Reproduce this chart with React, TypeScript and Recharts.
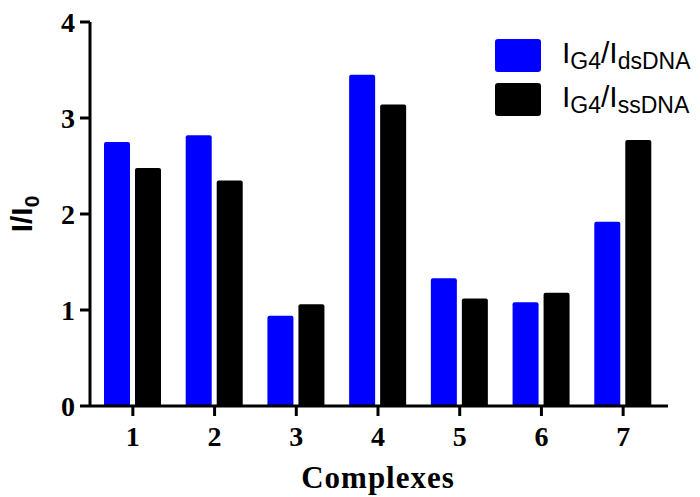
import { Bar, BarChart, XAxis, YAxis } from 'recharts'

const complexes = ['1', '2', '3', '4', '5', '6', '7']
const dsDNA = [2.75, 2.82, 0.94, 3.45, 1.33, 1.08, 1.92]
const ssDNA = [2.48, 2.35, 1.06, 3.14, 1.12, 1.18, 2.77]
const yTicks = [0, 1, 2, 3, 4]

const data = complexes.map((name, i) => ({ name, ds: dsDNA[i], ss: ssDNA[i] }))

const serif = '"Liberation Serif", "Times New Roman", serif'
const sans = '"Liberation Sans", Arial, sans-serif'
const axisStyle = { stroke: '#000', strokeWidth: 3 }

function YLabel({ viewBox }: any) {
  const cx = 32
  const cy = viewBox.y + viewBox.height / 2
  return (
    <text
      x={cx}
      y={cy}
      transform={`rotate(-90 ${cx} ${cy})`}
      textAnchor="middle"
      fontFamily={sans}
      fontWeight="bold"
      fontSize={30}
      fill="#000"
    >
      I/I<tspan fontSize={21} dy={7}>0</tspan>
    </text>
  )
}

function XLabel({ viewBox }: any) {
  return (
    <text
      x={viewBox.x + viewBox.width / 2 - 1}
      y={488}
      textAnchor="middle"
      fontFamily={serif}
      fontWeight="bold"
      fontSize={31}
      letterSpacing={1}
      fill="#000"
    >
      Complexes
    </text>
  )
}

function LegendRow({ color, sub }: { color: string; sub: string }) {
  return (
    <div style={{ display: 'flex', alignItems: 'center', height: 44 }}>
      <div style={{ width: 46, height: 33, background: color, borderRadius: 3, marginRight: 21 }} />
      <span style={{ fontFamily: sans, fontSize: 30, color: '#000', whiteSpace: 'nowrap' }}>
        I<span style={{ fontSize: 23, verticalAlign: '-0.25em' }}>G4</span>/I
        <span style={{ fontSize: 23, verticalAlign: '-0.25em' }}>{sub}</span>
      </span>
    </div>
  )
}

export default function App() {
  return (
    <div style={{ position: 'absolute', left: 0, top: 0, width: 700, height: 497, background: '#fff' }}>
      <BarChart
        width={700}
        height={497}
        data={data}
        margin={{ top: 22, right: 32, left: 0, bottom: 0 }}
        barGap={5}
        barSize={26}
      >
        <XAxis
          dataKey="name"
          height={91}
          padding={{ left: 2, right: 4 }}
          axisLine={axisStyle}
          tickLine={axisStyle}
          tickSize={10}
          tickMargin={10}
          tick={{ fontFamily: serif, fontWeight: 'bold', fontSize: 28, fill: '#000' }}
          label={{ content: XLabel }}
        />
        <YAxis
          width={90}
          domain={[0, 4]}
          ticks={yTicks}
          axisLine={axisStyle}
          tickLine={axisStyle}
          tickSize={10}
          tickMargin={5}
          tick={{ fontFamily: serif, fontWeight: 'bold', fontSize: 28, fill: '#000' }}
          label={{ content: YLabel }}
        />
        <Bar dataKey="ds" fill="#0000ff" radius={[2, 2, 0, 0]} isAnimationActive={false} />
        <Bar dataKey="ss" fill="#000000" radius={[2, 2, 0, 0]} isAnimationActive={false} />
      </BarChart>
      <div style={{ position: 'absolute', top: 33, left: 495 }}>
        <LegendRow color="#0000ff" sub="dsDNA" />
        <LegendRow color="#000000" sub="ssDNA" />
      </div>
    </div>
  )
}
